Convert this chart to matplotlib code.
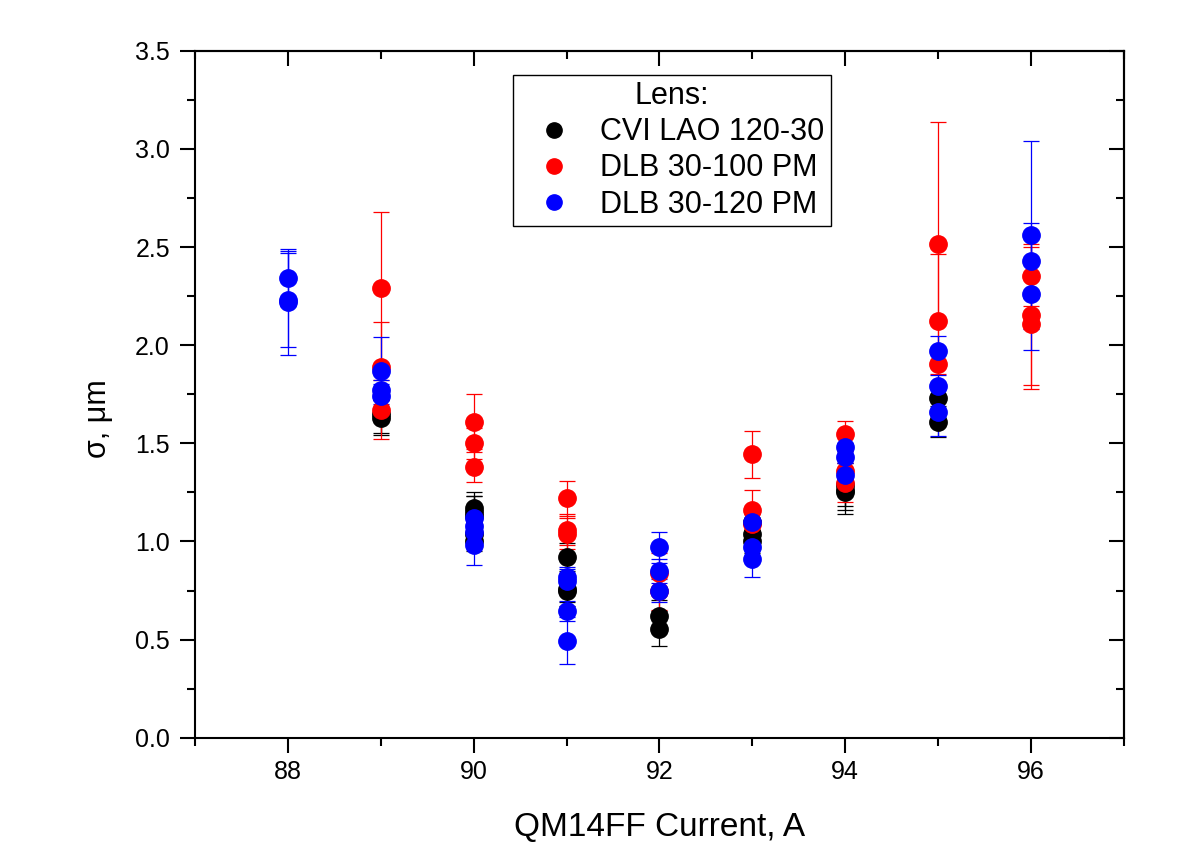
import matplotlib
matplotlib.use('Agg')
import matplotlib.pyplot as plt
from matplotlib.ticker import MultipleLocator, FormatStrFormatter
from matplotlib.lines import Line2D

plt.rcParams['font.family'] = ['Liberation Sans', 'DejaVu Sans']

# CVI LAO 120-30 (black)
cvi_x = [89, 89, 90, 90, 90, 90, 90, 91, 91, 91, 92, 92, 93, 93, 93, 94, 94, 94, 95, 95]
cvi_y = [1.65, 1.63, 1.17, 1.15, 1.13, 1.04, 1.00, 0.92, 0.76, 0.75, 0.62, 0.555,
         1.10, 1.04, 1.00, 1.29, 1.26, 1.25, 1.73, 1.61]
cvi_e = [0.10, 0.09, 0.08, 0.08, 0.10, 0.06, 0.05, 0.07, 0.07, 0.08, 0.08, 0.09,
         0.05, 0.05, 0.06, 0.11, 0.10, 0.11, 0.07, 0.08]

# DLB 30-100 PM (red)
d100_x = [89, 89, 89, 90, 90, 90, 91, 91, 91, 92, 92, 93, 93, 93, 94, 94, 94, 95, 95, 95, 96, 96, 96]
d100_y = [2.29, 1.89, 1.67, 1.61, 1.50, 1.38, 1.22, 1.06, 1.04, 0.84, 0.75,
          1.445, 1.16, 1.09, 1.545, 1.36, 1.30, 2.515, 2.125, 1.905, 2.35, 2.155, 2.107]
d100_e = [0.39, 0.23, 0.15, 0.14, 0.08, 0.075, 0.09, 0.08, 0.08, 0.10, 0.10,
          0.12, 0.10, 0.05, 0.07, 0.10, 0.10, 0.62, 0.34, 0.05, 0.15, 0.36, 0.33]

# DLB 30-120 PM (blue)
d120_x = [88, 88, 88, 89, 89, 89, 90, 90, 90, 90, 91, 91, 91, 91, 92, 92, 92,
          93, 93, 93, 94, 94, 94, 95, 95, 95, 96, 96, 96]
d120_y = [2.34, 2.23, 2.22, 1.87, 1.77, 1.74, 1.12, 1.08, 1.05, 0.98,
          0.82, 0.80, 0.645, 0.495, 0.97, 0.85, 0.75, 1.10, 0.97, 0.91,
          1.48, 1.43, 1.34, 1.968, 1.79, 1.657, 2.56, 2.43, 2.263]
d120_e = [0.14, 0.24, 0.27, 0.17, 0.05, 0.06, 0.05, 0.05, 0.05, 0.10,
          0.05, 0.06, 0.05, 0.12, 0.08, 0.06, 0.06, 0.06, 0.05, 0.09,
          0.08, 0.07, 0.08, 0.08, 0.06, 0.12, 0.48, 0.19, 0.29]

labels = ['CVI LAO 120-30', 'DLB 30-100 PM', 'DLB 30-120 PM']
colors = ['#000000', '#ff0000', '#0000ff']

fig = plt.figure(figsize=(11.88, 8.46), dpi=100)
ax = fig.add_axes([0.1641, 0.128, 0.7820, 0.812])

series = [(cvi_x, cvi_y, cvi_e), (d100_x, d100_y, d100_e), (d120_x, d120_y, d120_e)]
for (xs, ys, es), c in zip(series, colors):
    ax.errorbar(xs, ys, yerr=es, fmt='o', color=c, ecolor=c, ms=12.5, mec=c,
                capsize=5.5, elinewidth=0.9, capthick=0.9)

ax.set_xlim(87, 97)
ax.set_ylim(0, 3.5)
ax.xaxis.set_major_locator(MultipleLocator(2))
ax.xaxis.set_minor_locator(MultipleLocator(1))
ax.yaxis.set_major_locator(MultipleLocator(0.5))
ax.yaxis.set_minor_locator(MultipleLocator(0.25))
ax.yaxis.set_major_formatter(FormatStrFormatter('%.1f'))

ax.tick_params(which='major', direction='out', length=11, width=1.5)
ax.tick_params(which='minor', direction='out', length=5.5, width=1.5)
ax.tick_params(which='both', top=False, right=False)
ax.tick_params(axis='x', which='major', labelsize=18, pad=5)
ax.tick_params(axis='y', which='major', labelsize=18, pad=7)
for s in ax.spines.values():
    s.set_linewidth(1.5)

# mirrored inward ticks on top and right
axt = ax.secondary_xaxis('top')
axt.xaxis.set_major_locator(MultipleLocator(2))
axt.xaxis.set_minor_locator(MultipleLocator(1))
axt.tick_params(which='major', direction='in', length=11, width=1.5, labeltop=False)
axt.tick_params(which='minor', direction='in', length=5.5, width=1.5)
axt.spines['top'].set_linewidth(1.5)
axr = ax.secondary_yaxis('right')
axr.yaxis.set_major_locator(MultipleLocator(0.5))
axr.yaxis.set_minor_locator(MultipleLocator(0.25))
axr.tick_params(which='major', direction='in', length=11, width=1.5, labelright=False)
axr.tick_params(which='minor', direction='in', length=5.5, width=1.5)
axr.spines['right'].set_linewidth(1.5)

ax.set_xlabel('QM14FF Current, A', fontsize=24, labelpad=20)
ax.set_ylabel('σ, μm', fontsize=22)
ax.yaxis.set_label_coords(-0.088, 0.465)

handles = [Line2D([], [], marker='o', ls='none', color=c, ms=11) for c in colors]
leg = ax.legend(handles, labels, title='Lens:', loc='upper left',
                bbox_to_anchor=(0.3423, 0.9646), fontsize=22, title_fontsize=22,
                frameon=True, fancybox=False, edgecolor='black', framealpha=1,
                borderpad=0.2, borderaxespad=0, labelspacing=0.2,
                handletextpad=0.36, handlelength=2.3)
leg.get_frame().set_linewidth(1.0)

fig.savefig('out.png', dpi=100)
